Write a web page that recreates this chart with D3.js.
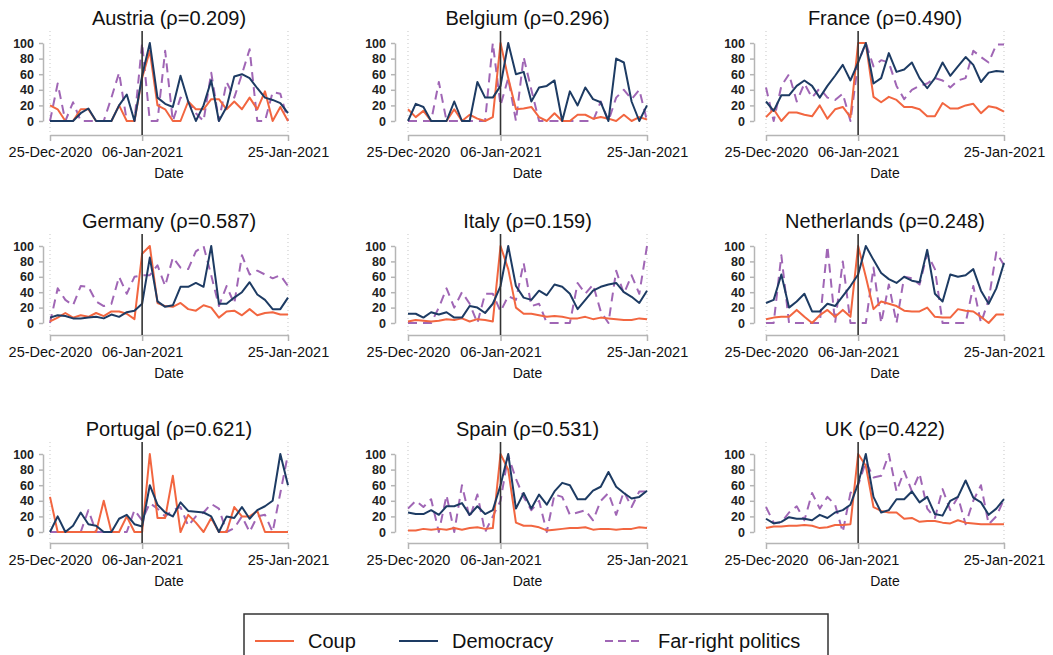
<!DOCTYPE html>
<html>
<head>
<meta charset="utf-8">
<script src="https://cdn.jsdelivr.net/npm/d3@7"></script>
<style>
  body { margin: 0; background: #fff; }
  svg { font-family: "Liberation Sans", Arial, sans-serif; }
</style>
</head>
<body>
<div id="chart"></div>
<script>
const width = 1053;
const height = 655;

const dateLabels = [
  "2020-12-25", "2020-12-26", "2020-12-27", "2020-12-28", "2020-12-29", "2020-12-30",
  "2020-12-31", "2021-01-01", "2021-01-02", "2021-01-03", "2021-01-04", "2021-01-05",
  "2021-01-06", "2021-01-07", "2021-01-08", "2021-01-09", "2021-01-10", "2021-01-11",
  "2021-01-12", "2021-01-13", "2021-01-14", "2021-01-15", "2021-01-16", "2021-01-17",
  "2021-01-18", "2021-01-19", "2021-01-20", "2021-01-21", "2021-01-22", "2021-01-23",
  "2021-01-24", "2021-01-25",
];
const tickDates = ["2020-12-25", "2021-01-06", "2021-01-25"];
const eventDate = "2021-01-06";
const yTicks = [0, 20, 40, 60, 80, 100];

const seriesNames = ["Coup", "Democracy", "Far-right politics"];
const seriesColors = ["#f26640", "#1d3b63", "#a066b5"];

const countryNames = ["Austria", "Belgium", "France", "Germany", "Italy", "Netherlands", "Portugal", "Spain", "UK"];
const rhoValues = ["0.209", "0.296", "0.490", "0.587", "0.159", "0.248", "0.621", "0.531", "0.422"];

// Austria
const austriaCoup = [20, 15, 0, 0, 15, 15, 0, 0, 0, 20, 0, 0, 55, 90, 20, 15, 0, 0, 25, 15, 15, 28, 28, 15, 25, 15, 30, 15, 38, 0, 18, 0];
const austriaDemocracy = [0, 0, 0, 0, 10, 16, 0, 0, 0, 20, 34, 0, 58, 100, 30, 22, 18, 58, 25, 0, 20, 52, 0, 18, 57, 60, 55, 42, 30, 27, 23, 10];
const austriaFarRight = [0, 48, 0, 24, 0, 0, 0, 0, 30, 62, 0, 0, 100, 0, 0, 90, 0, 30, 25, 10, 0, 62, 0, 50, 30, 60, 92, 0, 0, 37, 35, 0];
// Belgium
const belgiumCoup = [15, 5, 13, 0, 0, 0, 15, 0, 8, 3, 0, 5, 100, 55, 15, 16, 18, 5, 0, 10, 0, 0, 8, 8, 3, 5, 3, 0, 8, 0, 5, 2];
const belgiumDemocracy = [0, 22, 18, 0, 0, 0, 25, 0, 0, 50, 30, 30, 45, 100, 60, 63, 25, 43, 45, 52, 0, 38, 20, 43, 28, 24, 0, 80, 75, 25, 0, 20];
const belgiumFarRight = [0, 0, 0, 0, 50, 0, 0, 0, 0, 0, 0, 100, 20, 55, 0, 82, 40, 0, 0, 0, 0, 0, 0, 0, 0, 25, 0, 30, 40, 28, 40, 0];
// France
const franceCoup = [5, 15, 0, 11, 11, 8, 6, 20, 3, 15, 18, 5, 100, 100, 31, 24, 31, 27, 18, 18, 15, 6, 6, 23, 16, 16, 20, 22, 10, 19, 17, 12];
const franceDemocracy = [25, 13, 33, 33, 45, 52, 45, 30, 45, 58, 72, 52, 75, 100, 48, 55, 87, 63, 66, 75, 55, 42, 55, 75, 58, 70, 82, 72, 50, 62, 64, 63];
const franceFarRight = [43, 0, 45, 60, 25, 48, 30, 42, 30, 27, 35, 0, 75, 100, 70, 78, 75, 45, 28, 40, 45, 48, 55, 52, 43, 52, 55, 90, 82, 75, 98, 98];
// Germany
const germanyCoup = [2, 7, 13, 7, 10, 8, 13, 9, 15, 15, 12, 5, 90, 100, 26, 22, 21, 26, 18, 16, 23, 20, 7, 15, 16, 10, 18, 10, 13, 14, 11, 11];
const germanyDemocracy = [7, 10, 9, 6, 6, 7, 8, 6, 11, 8, 14, 16, 25, 85, 28, 21, 23, 47, 47, 52, 47, 100, 25, 25, 33, 40, 53, 37, 30, 18, 18, 33];
const germanyFarRight = [0, 45, 30, 23, 48, 47, 28, 22, 25, 60, 38, 60, 62, 62, 75, 48, 85, 72, 70, 93, 100, 62, 22, 48, 25, 88, 63, 68, 63, 58, 62, 48];
// Italy
const italyCoup = [2, 4, 3, 2, 3, 5, 4, 6, 2, 5, 4, 2, 100, 70, 20, 12, 12, 10, 8, 9, 8, 6, 6, 8, 5, 7, 6, 5, 4, 4, 6, 5];
const italyDemocracy = [12, 12, 7, 14, 11, 14, 7, 7, 22, 20, 13, 25, 48, 100, 48, 33, 30, 42, 36, 50, 47, 38, 18, 30, 42, 47, 50, 52, 40, 34, 26, 42];
const italyFarRight = [0, 0, 0, 0, 20, 45, 20, 40, 25, 0, 38, 38, 15, 35, 30, 78, 22, 25, 0, 0, 0, 0, 52, 38, 50, 15, 0, 68, 38, 62, 38, 100];
// Netherlands
const netherlandsCoup = [5, 7, 8, 8, 17, 8, 0, 10, 17, 8, 17, 8, 100, 60, 18, 28, 25, 22, 16, 15, 15, 20, 8, 7, 7, 18, 16, 15, 8, 0, 11, 11];
const netherlandsDemocracy = [26, 30, 63, 20, 28, 38, 15, 15, 25, 22, 35, 48, 63, 100, 82, 65, 57, 52, 60, 55, 53, 95, 38, 28, 63, 60, 62, 70, 42, 25, 45, 78];
const netherlandsFarRight = [0, 0, 88, 0, 0, 0, 0, 0, 100, 0, 80, 0, 0, 0, 72, 0, 50, 0, 60, 58, 50, 90, 70, 0, 0, 0, 0, 48, 0, 30, 92, 75];
// Portugal
const portugalCoup = [45, 0, 0, 0, 0, 0, 0, 40, 0, 0, 20, 0, 0, 100, 18, 18, 72, 0, 22, 12, 0, 18, 0, 0, 32, 20, 20, 27, 0, 0, 0, 0];
const portugalDemocracy = [0, 20, 0, 8, 25, 10, 8, 0, 0, 17, 22, 10, 7, 60, 35, 25, 20, 38, 27, 26, 25, 20, 0, 20, 18, 32, 17, 28, 33, 40, 100, 60];
const portugalFarRight = [0, 0, 0, 0, 0, 28, 0, 0, 0, 0, 0, 28, 15, 37, 30, 20, 28, 32, 8, 20, 25, 36, 30, 0, 5, 20, 0, 20, 22, 0, 50, 100];
// Spain
const spainCoup = [2, 2, 4, 3, 4, 3, 5, 3, 5, 6, 4, 5, 100, 80, 12, 8, 8, 6, 2, 3, 4, 5, 5, 6, 3, 4, 4, 3, 4, 4, 6, 5];
const spainDemocracy = [25, 23, 23, 28, 22, 33, 33, 37, 22, 33, 23, 28, 60, 100, 30, 50, 30, 48, 35, 52, 63, 60, 42, 42, 53, 58, 77, 58, 50, 43, 45, 53];
const spainFarRight = [30, 40, 32, 42, 0, 47, 0, 60, 18, 48, 0, 20, 40, 98, 68, 45, 28, 40, 0, 48, 45, 22, 25, 28, 15, 40, 50, 22, 52, 32, 52, 52];
// UK
const ukCoup = [5, 7, 7, 8, 8, 9, 8, 5, 6, 9, 9, 10, 100, 85, 32, 27, 25, 25, 17, 18, 13, 14, 14, 12, 11, 15, 12, 11, 10, 10, 10, 10];
const ukDemocracy = [17, 11, 13, 19, 17, 17, 15, 22, 18, 25, 28, 35, 62, 100, 45, 25, 28, 42, 42, 52, 38, 45, 23, 21, 40, 45, 66, 44, 38, 22, 30, 42];
const ukFarRight = [32, 12, 12, 25, 33, 15, 50, 30, 45, 35, 0, 50, 60, 90, 70, 72, 100, 52, 78, 52, 75, 30, 18, 55, 28, 45, 10, 40, 60, 10, 20, 42];

const countrySeries = [
  [austriaCoup, austriaDemocracy, austriaFarRight],
  [belgiumCoup, belgiumDemocracy, belgiumFarRight],
  [franceCoup, franceDemocracy, franceFarRight],
  [germanyCoup, germanyDemocracy, germanyFarRight],
  [italyCoup, italyDemocracy, italyFarRight],
  [netherlandsCoup, netherlandsDemocracy, netherlandsFarRight],
  [portugalCoup, portugalDemocracy, portugalFarRight],
  [spainCoup, spainDemocracy, spainFarRight],
  [ukCoup, ukDemocracy, ukFarRight],
];

// panel layout (3 x 3)
const colAxisX = [43, 395, 754];
const colX0 = [50, 408, 766];
const colX1 = [288, 647, 1004];
const rowY100 = [43, 246, 454];
const rowY0 = [121, 323, 532];
const rowAxisY = [135, 335, 543];

const parse = d3.timeParse("%Y-%m-%d");
const dates = dateLabels.map(parse);

const svg = d3
  .select("#chart")
  .append("svg")
  .attr("width", width)
  .attr("height", height);

countryNames.forEach((name, i) => {
  const col = i % 3;
  const row = Math.floor(i / 3);
  const x = d3
    .scaleTime()
    .domain([dates[0], dates[dates.length - 1]])
    .range([colX0[col], colX1[col]]);
  const y = d3.scaleLinear().domain([0, 100]).range([rowY0[row], rowY100[row]]);
  const g = svg.append("g");
  const top = rowY100[row] - 12;

  // faint dotted borders at first / last date
  [dates[0], dates[dates.length - 1]].forEach((d) => {
    g.append("line")
      .attr("x1", x(d))
      .attr("x2", x(d))
      .attr("y1", top)
      .attr("y2", rowAxisY[row])
      .attr("stroke", "#d0d0d0")
      .attr("stroke-width", 1.2)
      .attr("stroke-dasharray", "1,3");
  });

  // title
  g.append("text")
    .attr("x", (colX0[col] + colX1[col]) / 2)
    .attr("y", rowY100[row] - 18)
    .attr("text-anchor", "middle")
    .attr("font-size", 20)
    .attr("fill", "#111")
    .text(`${name} (ρ=${rhoValues[i]})`);

  // y axis
  const yAxis = g
    .append("g")
    .attr("transform", `translate(${colAxisX[col]},0)`)
    .call(d3.axisLeft(y).tickValues(yTicks).tickSize(4).tickSizeOuter(0).tickPadding(5));
  yAxis.select(".domain").attr("stroke", "#b5b5b5").attr("stroke-width", 1.5);
  yAxis.selectAll(".tick line").attr("stroke", "#b5b5b5").attr("stroke-width", 1.5);
  yAxis.selectAll(".tick text")
    .attr("font-size", 12.5)
    .attr("font-weight", "bold")
    .attr("fill", "#222")
    .attr("font-family", "Liberation Sans, Arial, sans-serif");

  // x axis
  const xAxis = g
    .append("g")
    .attr("transform", `translate(0,${rowAxisY[row]})`)
    .call(
      d3
        .axisBottom(x)
        .tickValues(tickDates.map(parse))
        .tickFormat(d3.timeFormat("%d-%b-%Y"))
        .tickSize(6)
        .tickSizeOuter(0)
        .tickPadding(6)
    );
  xAxis.select(".domain").attr("stroke", "#b5b5b5").attr("stroke-width", 1.5);
  xAxis.selectAll(".tick line").attr("stroke", "#b5b5b5").attr("stroke-width", 1.5);
  xAxis.selectAll(".tick text")
    .attr("font-size", 14.5)
    .attr("fill", "#111")
    .attr("font-family", "Liberation Sans, Arial, sans-serif");

  g.append("text")
    .attr("x", (colX0[col] + colX1[col]) / 2)
    .attr("y", rowAxisY[row] + 43)
    .attr("text-anchor", "middle")
    .attr("font-size", 14)
    .attr("fill", "#111")
    .text("Date");

  // series: far-right first, then coup, democracy on top
  const line = d3
    .line()
    .x((d, k) => x(dates[k]))
    .y((d) => y(d));
  [2, 0, 1].forEach((s) => {
    g.append("path")
      .datum(countrySeries[i][s])
      .attr("d", line)
      .attr("fill", "none")
      .attr("stroke", seriesColors[s])
      .attr("stroke-width", 2)
      .attr("stroke-linejoin", "round")
      .attr("stroke-dasharray", s === 2 ? "9,6" : null);
  });

  // event line (6 Jan)
  g.append("line")
    .attr("x1", x(parse(eventDate)))
    .attr("x2", x(parse(eventDate)))
    .attr("y1", top)
    .attr("y2", rowAxisY[row])
    .attr("stroke", "#333")
    .attr("stroke-width", 1.6);
});

// legend
const legend = svg.append("g");
legend
  .append("rect")
  .attr("x", 244)
  .attr("y", 614)
  .attr("width", 584)
  .attr("height", 60)
  .attr("fill", "#fff")
  .attr("stroke", "#333")
  .attr("stroke-width", 1.5);

const legendX = [255, 399, 605];
seriesNames.forEach((s, i) => {
  legend
    .append("line")
    .attr("x1", legendX[i])
    .attr("x2", legendX[i] + 39)
    .attr("y1", 641)
    .attr("y2", 641)
    .attr("stroke", seriesColors[i])
    .attr("stroke-width", 2)
    .attr("stroke-dasharray", i === 2 ? "8,5" : null);
  legend
    .append("text")
    .attr("x", legendX[i] + 53)
    .attr("y", 648)
    .attr("font-size", 20)
    .attr("fill", "#111")
    .text(s);
});
</script>
</body>
</html>
